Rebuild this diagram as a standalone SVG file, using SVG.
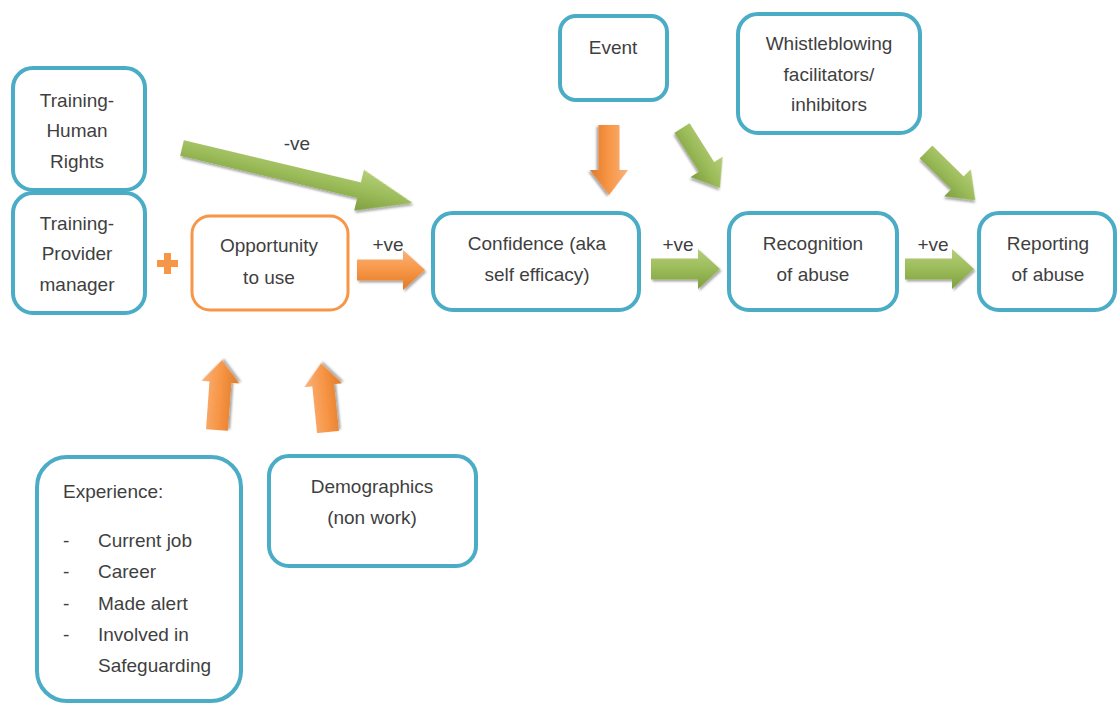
<svg xmlns="http://www.w3.org/2000/svg" width="1117" height="703" viewBox="0 0 1117 703">
  <defs>
    <linearGradient id="gGreen" x1="0" y1="0" x2="0" y2="1">
      <stop offset="0" stop-color="#b5cf7a"/>
      <stop offset="0.5" stop-color="#9bbb59"/>
      <stop offset="1" stop-color="#7e9f3f"/>
    </linearGradient>
    <linearGradient id="gOrange" x1="0" y1="0" x2="0" y2="1">
      <stop offset="0" stop-color="#f9b27c"/>
      <stop offset="0.5" stop-color="#f79646"/>
      <stop offset="1" stop-color="#e07a28"/>
    </linearGradient>
    <filter id="shadow" x="-20%" y="-20%" width="140%" height="140%">
      <feDropShadow dx="1.5" dy="2" stdDeviation="1.2" flood-color="#000" flood-opacity="0.35"/>
    </filter>
  </defs>
  <style>
    .box { fill: #ffffff; stroke: #4bacc6; stroke-width: 4; }
    .obox { fill: #ffffff; stroke: #f79646; stroke-width: 3; }
    .lbl { font-family: "Liberation Sans", Arial, sans-serif; font-size: 19px; fill: #3f3f3f; text-anchor: middle; }
    .lft { text-anchor: start; }
    .green { fill: url(#gGreen); filter: url(#shadow); }
    .orange { fill: url(#gOrange); filter: url(#shadow); }
  </style>
  <rect width="1117" height="703" fill="#ffffff"/>

  <!-- block arrows (connectors) -->
  <g id="connectors">
    <!-- Human Rights training -> Confidence -->
    <path class="green" transform="translate(182,148) rotate(13.4)" d="M0,-8 H182 V-21 L237,0 L182,21 V8 H0 Z"/>
    <!-- Opportunity -> Confidence -->
    <path class="orange" transform="translate(357,270)" d="M0,-10.5 H46 V-20 L68,0 L46,20 V10.5 H0 Z"/>
    <!-- Confidence -> Recognition -->
    <path class="green" transform="translate(651,269)" d="M0,-10.5 H47 V-20 L69,0 L47,20 V10.5 H0 Z"/>
    <!-- Recognition -> Reporting -->
    <path class="green" transform="translate(905,269)" d="M0,-10.5 H47 V-20 L69,0 L47,20 V10.5 H0 Z"/>
    <!-- Event -> Confidence -->
    <path class="orange" transform="translate(609,125) rotate(90)" d="M0,-10.5 H45 V-19 L70,0 L45,19 V10.5 H0 Z"/>
    <!-- Event -> Recognition -->
    <path class="green" transform="translate(682,128) rotate(57.7)" d="M0,-9 H46 V-19 L71,0 L46,19 V9 H0 Z"/>
    <!-- Whistleblowing -> Reporting -->
    <path class="green" transform="translate(926,152) rotate(44.4)" d="M0,-9 H44 V-19 L69,0 L44,19 V9 H0 Z"/>
    <!-- Experience -> Opportunity -->
    <path class="orange" transform="translate(217,430) rotate(-85.9)" d="M0,-11 H48 V-19 L70,0 L48,19 V11 H0 Z"/>
    <!-- Demographics -> Opportunity -->
    <path class="orange" transform="translate(328,432) rotate(-95.8)" d="M0,-11 H47 V-19 L69,0 L47,19 V11 H0 Z"/>
    <!-- plus sign -->
    <path fill="#f79646" d="M164,253 h7 v7 h7 v7 h-7 v7 h-7 v-7 h-7 v-7 h7 Z"/>
    <text class="lbl" x="297" y="150">-ve</text>
    <text class="lbl" x="388" y="251">+ve</text>
    <text class="lbl" x="678" y="251">+ve</text>
    <text class="lbl" x="933" y="251">+ve</text>
  </g>

  <g id="training-human-rights">
    <rect class="box" x="13" y="68" width="132" height="122" rx="20"/>
    <text class="lbl" x="77" y="107">Training-</text>
    <text class="lbl" x="77" y="137">Human</text>
    <text class="lbl" x="77" y="168">Rights</text>
  </g>

  <g id="training-provider">
    <rect class="box" x="13" y="193" width="132" height="120" rx="20"/>
    <text class="lbl" x="77" y="230">Training-</text>
    <text class="lbl" x="77" y="260">Provider</text>
    <text class="lbl" x="77" y="291">manager</text>
  </g>

  <g id="opportunity">
    <rect class="obox" x="192" y="216" width="156" height="94" rx="18"/>
    <text class="lbl" x="269" y="252">Opportunity</text>
    <text class="lbl" x="269" y="284">to use</text>
  </g>

  <g id="confidence">
    <rect class="box" x="433" y="213" width="206" height="97" rx="20"/>
    <text class="lbl" x="537" y="250">Confidence (aka</text>
    <text class="lbl" x="537" y="281">self efficacy)</text>
  </g>

  <g id="recognition">
    <rect class="box" x="729" y="213" width="168" height="97" rx="20"/>
    <text class="lbl" x="813" y="250">Recognition</text>
    <text class="lbl" x="813" y="281">of abuse</text>
  </g>

  <g id="reporting">
    <rect class="box" x="979" y="213" width="136" height="97" rx="20"/>
    <text class="lbl" x="1048" y="250">Reporting</text>
    <text class="lbl" x="1048" y="281">of abuse</text>
  </g>

  <g id="event">
    <rect class="box" x="560" y="16" width="107" height="84" rx="16"/>
    <text class="lbl" x="613" y="54">Event</text>
  </g>

  <g id="whistleblowing">
    <rect class="box" x="738" y="14" width="182" height="119" rx="20"/>
    <text class="lbl" x="829" y="50">Whistleblowing</text>
    <text class="lbl" x="829" y="81">facilitators/</text>
    <text class="lbl" x="829" y="111">inhibitors</text>
  </g>

  <g id="experience">
    <rect class="box" x="37" y="457" width="204" height="244" rx="30"/>
    <text class="lbl lft" x="63" y="498">Experience:</text>
    <text class="lbl lft" x="63" y="547">-</text>
    <text class="lbl lft" x="98" y="547">Current job</text>
    <text class="lbl lft" x="63" y="578">-</text>
    <text class="lbl lft" x="98" y="578">Career</text>
    <text class="lbl lft" x="63" y="610">-</text>
    <text class="lbl lft" x="98" y="610">Made alert</text>
    <text class="lbl lft" x="63" y="641">-</text>
    <text class="lbl lft" x="98" y="641">Involved in</text>
    <text class="lbl lft" x="98" y="672">Safeguarding</text>
  </g>

  <g id="demographics">
    <rect class="box" x="269" y="456" width="207" height="110" rx="20"/>
    <text class="lbl" x="372" y="493">Demographics</text>
    <text class="lbl" x="372" y="524">(non work)</text>
  </g>
</svg>
